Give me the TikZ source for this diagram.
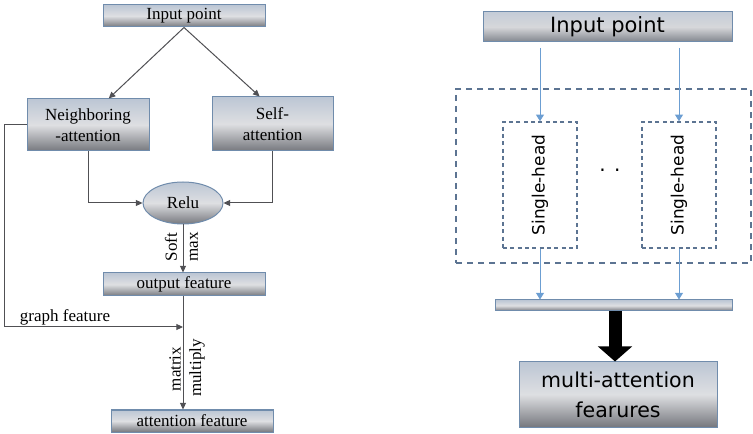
\documentclass[tikz,border=0pt]{standalone}
\usepackage{fontspec}
\setmainfont{Liberation Serif}
\newfontfamily\headfont{DejaVu Sans}
\usetikzlibrary{arrows.meta,shapes.geometric}

\definecolor{boxedge}{RGB}{112,140,172}
\definecolor{boxtop}{RGB}{188,198,212}
\definecolor{boxmid}{RGB}{222,223,226}
\definecolor{boxbot}{RGB}{118,120,126}
\definecolor{darktop}{RGB}{196,204,216}
\definecolor{darkmid}{RGB}{214,215,218}
\definecolor{darkbot}{RGB}{128,132,140}
\definecolor{dashedge}{RGB}{92,116,146}
\definecolor{headline}{RGB}{108,158,210}
\definecolor{flowline}{RGB}{80,80,84}

\tikzset{every picture/.style={line width=0.75pt}}
\tikzset{
  gbox/.style={draw=boxedge, top color=boxtop, bottom color=boxbot, middle color=boxmid,
    inner sep=0pt, align=center, font=\fontsize{12.75}{15.75}\selectfont},
  rbox/.style={gbox, font=\headfont\fontsize{15.4}{22.5}\selectfont},
  headbox/.style={draw=dashedge, dash pattern={on 3pt off 2.5pt}, line width=1.1pt,
    inner sep=0pt, minimum width=55.5pt, minimum height=94.5pt},
  arr/.style={draw=flowline, -{Triangle[length=5pt,width=4.5pt]}},
  barr/.style={draw=headline, -{Triangle[length=5pt,width=6pt]}},
  lbl/.style={font=\fontsize{12.75}{15}\selectfont, inner sep=0pt},
}

\begin{document}
\begin{tikzpicture}[x=0.75pt,y=0.75pt,yscale=-1,xscale=1]
        \useasboundingbox (0,0) rectangle (753,434);
        % left: neighbouring / self attention
        \node [gbox, minimum width=121.5pt, minimum height=16.5pt] (inL) at (184,16) {Input point};
        \node [gbox, minimum width=91.5pt, minimum height=39pt] (nbr) at (88,125) {Neighboring\\-attention};
        \node [gbox, minimum width=90.75pt, minimum height=40.5pt] (slf) at (272.5,124) {Self-\\attention};
        \node [gbox, ellipse, minimum width=60pt, minimum height=31.5pt] (relu) at (183,203) {Relu};
        \node [gbox, minimum width=121.5pt, minimum height=17.25pt] (outf) at (184,284.5) {output feature};
        \node [gbox, minimum width=121.5pt, minimum height=16.5pt] (attf) at (192,421) {attention feature};
        \coordinate (jn) at (183,327);
        \draw [arr] (inL.south) -- (nbr.52);
        \draw [arr] (inL.south) -- (slf.115);
        \draw [arr] (nbr.south) |- (relu.west);
        \draw [arr] (slf.south) |- (relu.east);
        \draw [arr] (relu.south) -- (relu.south |- outf.north);
        \draw [flowline] (outf.south -| jn) -- (jn);
        \draw [arr] (jn) -- (jn |- attf.north);
        \draw [arr] (nbr.west) -- ++(-22,0) |- (jn);
        \node [lbl, rotate=90] (soft) at (171,247) {Soft};
        \node [lbl, rotate=90] (smax) at (194,247) {max};
        \node [lbl, rotate=90] (mtx) at (175,369) {matrix};
        \node [lbl, rotate=90] (mul) at (197,368) {multiply};
        \node [lbl] (gfeat) at (65,317) {graph feature};
        % right: multi-head attention
        \node [rbox, top color=darktop, bottom color=darkbot, middle color=darkmid,
          minimum width=186.75pt, minimum height=22.5pt, font=\headfont\fontsize{15.75}{18}\selectfont] (inR) at (607.5,27) {Input point};
        \node [draw=dashedge, dash pattern={on 4.5pt off 3.75pt}, line width=1.5pt,
          minimum width=221.25pt, minimum height=130.5pt] (multi) at (603.5,176) {};
        \node [headbox] (sh1) at (540,185) {};
        \node [headbox] (sh2) at (679,185) {};
        \node [rotate=90, font=\headfont\fontsize{12.7}{14}\selectfont] at (sh1) {Single-head};
        \node [rotate=90, font=\headfont\fontsize{12.7}{14}\selectfont] at (sh2) {Single-head};
        \node [font=\headfont\fontsize{15}{18}\selectfont] (dots) at (610,170) {. .};
        \node [rbox, minimum width=177.75pt, minimum height=8.25pt] (bar) at (613.5,305.5) {};
        \node [rbox, minimum width=148.5pt, minimum height=48.75pt] (maf) at (618,394.5) {multi-attention\\fearures};
        \draw [barr, shorten <=4pt] (inR.south -| sh1.north) -- (sh1.north);
        \draw [barr, shorten <=4pt] (inR.south -| sh2.north) -- (sh2.north);
        \draw [barr] (sh1.south) -- (sh1.south |- bar.north);
        \draw [barr] (sh2.south) -- (sh2.south |- bar.north);
        \draw [line width=9.75pt, -{Triangle[length=11.25pt,width=25pt]}] (bar.south -| 615,0) -- (maf.north -| 615,0);
\end{tikzpicture}
\end{document}
